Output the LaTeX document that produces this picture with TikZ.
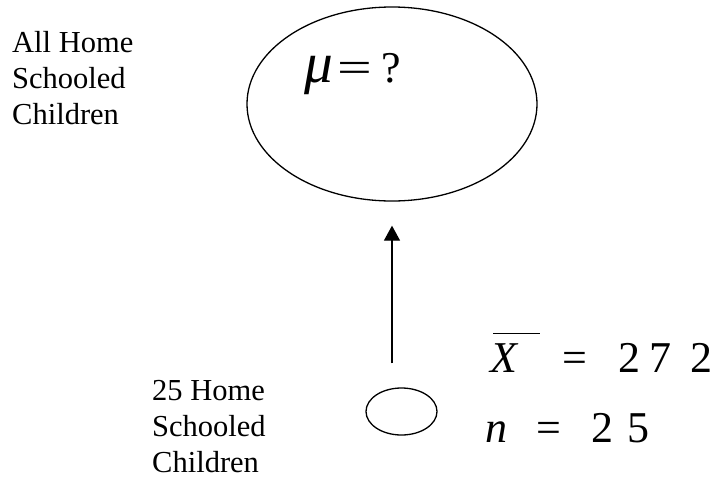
\documentclass[tikz,border=0pt]{standalone}
\usepackage{fontspec}
\setmainfont{Liberation Serif}
\usepackage{graphicx}
\usetikzlibrary{shapes.geometric,arrows.meta}

\begin{document}
\begin{tikzpicture}[x=1pt,y=-1pt,
  ring/.style={ellipse,draw,line width=1.3pt,inner sep=0pt},
  caption/.style={align=left,inner sep=0pt,anchor=base west,font=\fontsize{30.5}{36}\selectfont},
  stattext/.style={inner sep=0pt,anchor=base west,font=\fontsize{44}{48}\selectfont}]

\useasboundingbox (0,0) rectangle (718,477);

% population
\node[ring,minimum width=290pt,minimum height=194pt] (pop) at (392,104) {};
\node[stattext] (mu) at (304,82) {\scalebox{1.3}{\textit{μ}}\hspace{5pt}\scalebox{1.4}[1]{=}\hspace{9pt}?};
\node[caption] (poptext) at (12,124) {All Home\\Schooled\\Children};

% sample
\node[ring,minimum width=71pt,minimum height=47pt] (sample) at (401.5,411.5) {};
\node[caption] (sampletext) at (152,472) {25 Home\\Schooled\\Children};

% sample statistics
\node[stattext] (xbar) at (490,372) {\rlap{\hspace{3pt}\raisebox{38pt}{\rule{47pt}{1pt}}}\textit{X}\hspace{44pt}=\hspace{31pt}2\hspace{9pt}7\hspace{19pt}2};
\node[stattext] (n) at (485,442) {\textit{n}\hspace{29pt}=\hspace{31pt}2\hspace{14pt}5};

% inference arrow
\draw[line width=1.3pt,-{Triangle[width=16pt,length=15pt]}]
  ([yshift=24pt]sample.north -| pop.south) -- ([yshift=-24pt]pop.south);

\end{tikzpicture}
\end{document}
